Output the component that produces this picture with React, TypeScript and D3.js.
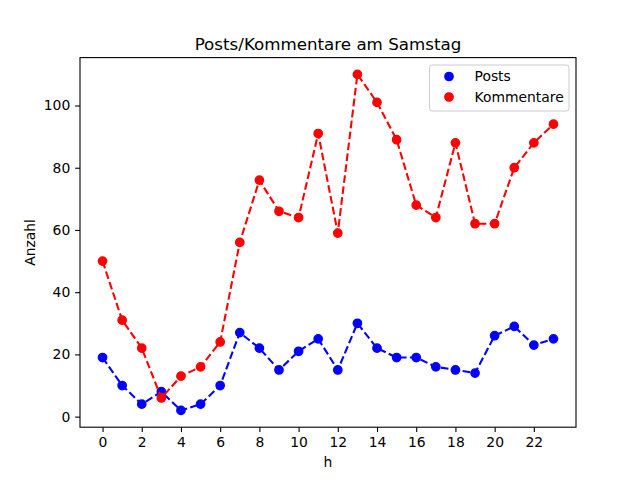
import React, { useRef, useEffect } from "react";
import * as d3 from "d3";

const hours = d3.range(0, 24);
const posts = [19, 10, 4, 8, 2, 4, 10, 27, 22, 15, 21, 25, 15, 30, 22, 19, 19, 16, 15, 14, 26, 29, 23, 25];
const kommentare = [50, 31, 22, 6, 13, 16, 24, 56, 76, 66, 64, 91, 59, 110, 101, 89, 68, 64, 88, 62, 62, 80, 88, 94];
const xTicks = [0, 2, 4, 6, 8, 10, 12, 14, 16, 18, 20, 22];
const yTicks = [0, 20, 40, 60, 80, 100];
const seriesNames = ["Posts", "Kommentare"];
const seriesColors = ["#0000ff", "#ff0000"];

const App: React.FC = () => {
  const svgRef = useRef<SVGSVGElement>(null);

  useEffect(() => {
    if (!svgRef.current) return;
    const svg = d3.select(svgRef.current);
    svg.selectAll("*").remove();

    const width = 640;
    const height = 480;
    const margin = { top: 57.6, right: 64, bottom: 52.8, left: 80 };
    const font = "DejaVu Sans, sans-serif";

    // matplotlib-style 5% margins
    const xPad = (23 - 0) * 0.05;
    const x = d3
      .scaleLinear()
      .domain([0 - xPad, 23 + xPad])
      .range([margin.left, width - margin.right]);
    const yMin = 2;
    const yMax = 110;
    const yPad = (yMax - yMin) * 0.05;
    const y = d3
      .scaleLinear()
      .domain([yMin - yPad, yMax + yPad])
      .range([height - margin.bottom, margin.top]);

    svg.append("rect").attr("width", width).attr("height", height).attr("fill", "white");

    const line = d3
      .line<number>()
      .x((_, i) => x(hours[i]))
      .y((d) => y(d));

    [posts, kommentare].forEach((data, k) => {
      svg
        .append("path")
        .datum(data)
        .attr("fill", "none")
        .attr("stroke", seriesColors[k])
        .attr("stroke-width", 2.08)
        .attr("stroke-dasharray", "7.7,3.33")
        .attr("d", line);
      svg
        .append("g")
        .selectAll("circle")
        .data(data)
        .join("circle")
        .attr("cx", (_, i) => x(hours[i]))
        .attr("cy", (d) => y(d))
        .attr("r", 4.17)
        .attr("fill", seriesColors[k])
        .attr("stroke", seriesColors[k])
        .attr("stroke-width", 1.39);
    });

    // Axes
    const xAxis = svg
      .append("g")
      .attr("transform", `translate(0, ${height - margin.bottom})`)
      .call(d3.axisBottom(x).tickValues(xTicks).tickSize(4.86).tickPadding(4.86).tickFormat(d3.format("d")));
    const yAxis = svg
      .append("g")
      .attr("transform", `translate(${margin.left}, 0)`)
      .call(d3.axisLeft(y).tickValues(yTicks).tickSize(4.86).tickPadding(4.86).tickFormat(d3.format("d")));
    [xAxis, yAxis].forEach((a) => {
      a.select(".domain").remove();
      a.selectAll("line").attr("stroke", "black").attr("stroke-width", 1.1);
      a.selectAll("text").attr("font-family", font).attr("font-size", 13.9).attr("fill", "black");
    });

    svg
      .append("rect")
      .attr("x", margin.left)
      .attr("y", margin.top)
      .attr("width", width - margin.left - margin.right)
      .attr("height", height - margin.top - margin.bottom)
      .attr("fill", "none")
      .attr("stroke", "black")
      .attr("stroke-width", 1.1);

    // Title and labels
    svg
      .append("text")
      .attr("x", (margin.left + width - margin.right) / 2)
      .attr("y", 49.5)
      .attr("text-anchor", "middle")
      .attr("font-family", font)
      .attr("font-size", 16.7)
      .text("Posts/Kommentare am Samstag");
    svg
      .append("text")
      .attr("x", (margin.left + width - margin.right) / 2)
      .attr("y", 467)
      .attr("text-anchor", "middle")
      .attr("font-family", font)
      .attr("font-size", 13.9)
      .text("h");
    svg
      .append("text")
      .attr("transform", `translate(35, ${(margin.top + height - margin.bottom) / 2}) rotate(-90)`)
      .attr("text-anchor", "middle")
      .attr("font-family", font)
      .attr("font-size", 13.9)
      .text("Anzahl");

    // Legend
    const lg = svg.append("g").attr("transform", "translate(429.5, 65)");
    lg.append("rect")
      .attr("width", 139.5)
      .attr("height", 46)
      .attr("rx", 2.8)
      .attr("fill", "white")
      .attr("fill-opacity", 0.8)
      .attr("stroke", "#cccccc")
      .attr("stroke-width", 1);
    seriesNames.forEach((name, k) => {
      const cy = 11.5 + k * 20.5;
      lg.append("circle")
        .attr("cx", 19.5)
        .attr("cy", cy)
        .attr("r", 4.17)
        .attr("fill", seriesColors[k])
        .attr("stroke", seriesColors[k])
        .attr("stroke-width", 1.39);
      lg.append("text")
        .attr("x", 45)
        .attr("y", cy + 4.8)
        .attr("font-family", font)
        .attr("font-size", 13.9)
        .text(name);
    });
  }, []);

  return <svg ref={svgRef} width={640} height={480} style={{ display: "block", margin: -8 }} />;
};

export default App;
